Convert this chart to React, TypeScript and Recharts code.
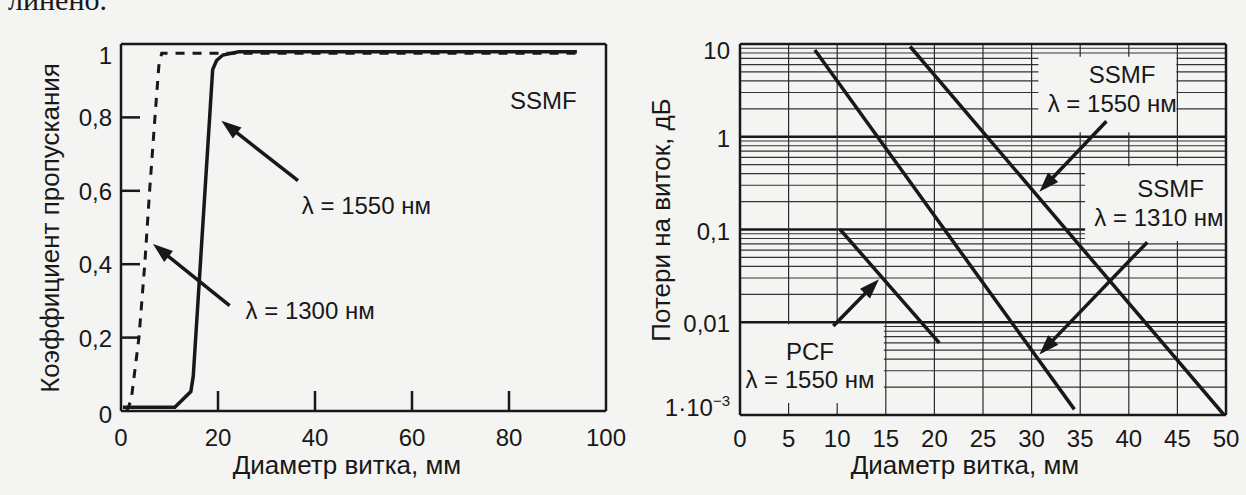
import React from 'react';
import { LineChart, Line, XAxis, YAxis, ReferenceLine, ReferenceDot } from 'recharts';

const INK = '#181818';
const PAPER = '#f4f4f2';
const FONT = '"Liberation Sans", Arial, Helvetica, sans-serif';

// left panel: transmission coefficient vs loop diameter (mm)
const transTicksX = [0, 20, 40, 60, 80, 100];
const transTicksY = [0, 0.2, 0.4, 0.6, 0.8, 1];
const trans1550 = [
  { d: 0.4, t: 0.01 },
  { d: 11.1, t: 0.01 },
  { d: 14.4, t: 0.053 },
  { d: 14.9, t: 0.095 },
  { d: 18.9, t: 0.93 },
  { d: 19.7, t: 0.955 },
  { d: 21, t: 0.97 },
  { d: 24.3, t: 0.979 },
  { d: 94, t: 0.979 },
];
const trans1300 = [
  { d: 1.2, t: 0 },
  { d: 2.1, t: 0.03 },
  { d: 3.7, t: 0.2 },
  { d: 4.9, t: 0.4 },
  { d: 5.9, t: 0.6 },
  { d: 7, t: 0.8 },
  { d: 7.8, t: 0.94 },
  { d: 8.4, t: 0.975 },
  { d: 94, t: 0.975 },
];

// right panel: loss per turn (dB, log) vs loop diameter (mm)
const lossTicksX = [0, 5, 10, 15, 20, 25, 30, 35, 40, 45, 50];
const lossDecades = [0.001, 0.01, 0.1, 1, 10];
const lossSsmf1550 = [
  { d: 17.5, loss: 9.4 },
  { d: 49.8, loss: 0.001 },
];
const lossSsmf1310 = [
  { d: 7.7, loss: 8.6 },
  { d: 34.4, loss: 0.00115 },
];
const lossPcf1550 = [
  { d: 10.3, loss: 0.1 },
  { d: 20.5, loss: 0.006 },
];

// empty patches of the log grid behind the labels
const labelBoxes = [
  { x0: 30.7, x1: 44.9, y0: 1.12, y1: 7.3 },
  { x0: 35.5, x1: 50, y0: 0.075, y1: 0.48 },
  { x0: 0, x1: 14.8, y0: 0.00135, y1: 0.0095 },
];

const labelStyle = { fontFamily: FONT, fontSize: 24, fill: INK };
const titleStyle = { fontFamily: FONT, fontSize: 26, fill: INK };
const frame = { stroke: INK, strokeWidth: 2.5 };
const comma = (v: number) => String(v).replace('.', ',');

function cutRange(lo: number, hi: number, holes: number[][]) {
  let segs = [[lo, hi]];
  for (const [a, b] of holes) {
    segs = segs.flatMap(([s, e]) => {
      if (b <= s || a >= e) return [[s, e]];
      const out: number[][] = [];
      if (a > s) out.push([s, a]);
      if (b < e) out.push([b, e]);
      return out;
    });
  }
  return segs;
}

const arrowShape = (p: any) => {
  const { x1, y1, x2, y2 } = p;
  const dx = x2 - x1;
  const dy = y2 - y1;
  const len = Math.hypot(dx, dy);
  const ux = dx / len;
  const uy = dy / len;
  const bx = x2 - ux * 20;
  const by = y2 - uy * 20;
  return (
    <g>
      <line x1={x1} y1={y1} x2={bx + ux * 3} y2={by + uy * 3} stroke={INK} strokeWidth={3.5} />
      <polygon
        points={`${x2},${y2} ${bx - uy * 7},${by + ux * 7} ${bx + uy * 7},${by - ux * 7}`}
        fill={INK}
      />
    </g>
  );
};

const textShape = (text: string) => (p: any) => (
  <text x={p.cx} y={p.cy} dy={8} textAnchor="middle" fontFamily={FONT} fontSize={24} fill={INK}>
    {text}
  </text>
);

function Note({ x, y, text }: { x: number; y: number; text: string }) {
  return <ReferenceDot x={x} y={y} r={0} ifOverflow="visible" shape={textShape(text)} />;
}

function TransmissionChart() {
  return (
    <LineChart width={640} height={495} margin={{ top: 43, right: 33, bottom: 83, left: 120 }}>
      <XAxis
        type="number"
        dataKey="d"
        domain={[0, 100]}
        ticks={transTicksX}
        interval={0}
        height={1}
        tickSize={0}
        tickMargin={0}
        tickLine={false}
        axisLine={frame}
        tick={(p: any) => (
          <g>
            {p.payload.value > 0 && p.payload.value < 100 && (
              <line x1={p.x} y1={p.y} x2={p.x} y2={p.y - 20} stroke={INK} strokeWidth={2.5} />
            )}
            <text x={p.x} y={p.y + 35} textAnchor="middle" {...labelStyle}>
              {p.payload.value}
            </text>
          </g>
        )}
      />
      <XAxis
        xAxisId="top"
        orientation="top"
        type="number"
        domain={[0, 100]}
        ticks={[20, 40, 60, 80]}
        interval={0}
        height={1}
        tickSize={0}
        tickMargin={0}
        tickLine={false}
        axisLine={frame}
        tick={(p: any) => <line x1={p.x} y1={p.y} x2={p.x} y2={p.y + 22} stroke={INK} strokeWidth={2.5} />}
      />
      <YAxis
        type="number"
        domain={[0, 1]}
        ticks={transTicksY}
        interval={0}
        width={1}
        tickSize={0}
        tickMargin={0}
        tickLine={false}
        axisLine={frame}
        tick={(p: any) => {
          const v = p.payload.value;
          return (
            <g>
              {v > 0 && v < 1 && <line x1={p.x} y1={p.y} x2={p.x + 19} y2={p.y} stroke={INK} strokeWidth={2.5} />}
              <text x={p.x - 9} y={p.y + (v === 1 ? 11 : v === 0 ? 3 : 0)} dy={9} textAnchor="end" {...labelStyle}>
                {comma(v)}
              </text>
            </g>
          );
        }}
      />
      <YAxis
        yAxisId="right"
        orientation="right"
        type="number"
        domain={[0, 1]}
        ticks={[0.2, 0.4, 0.6, 0.8]}
        interval={0}
        width={1}
        tickSize={0}
        tickMargin={0}
        tickLine={false}
        axisLine={frame}
        tick={(p: any) => <line x1={p.x} y1={p.y} x2={p.x - 19} y2={p.y} stroke={INK} strokeWidth={2.5} />}
      />
      <Line data={trans1300} dataKey="t" type="linear" stroke={INK} strokeWidth={3} strokeDasharray="9 8" dot={false} isAnimationActive={false} />
      <Line data={trans1550} dataKey="t" type="linear" stroke={INK} strokeWidth={3.5} dot={false} isAnimationActive={false} />
      <ReferenceLine segment={[{ x: 36.5, y: 0.628 }, { x: 20.7, y: 0.791 }]} shape={arrowShape} ifOverflow="visible" />
      <ReferenceLine segment={[{ x: 22.4, y: 0.287 }, { x: 6.6, y: 0.455 }]} shape={arrowShape} ifOverflow="visible" />
      <Note x={87.1} y={0.845} text="SSMF" />
      <Note x={50.6} y={0.559} text="λ = 1550 нм" />
      <Note x={39} y={0.273} text="λ = 1300 нм" />
    </LineChart>
  );
}

function LossChart() {
  const minor = lossDecades
    .slice(0, -1)
    .flatMap((d) => [2, 3, 4, 5, 6, 7, 8, 9].map((k) => +(k * d).toPrecision(3)));
  const major = [0.01, 0.1, 1];
  const cols = lossTicksX.slice(1, -1);
  const hLines = [...minor.map((v) => ({ v, major: false })), ...major.map((v) => ({ v, major: true }))];

  return (
    <LineChart width={606} height={495} margin={{ top: 43, right: 19, bottom: 79, left: 99 }}>
      <XAxis
        type="number"
        dataKey="d"
        domain={[0, 50]}
        ticks={lossTicksX}
        interval={0}
        height={1}
        tickSize={0}
        tickMargin={0}
        tickLine={false}
        axisLine={frame}
        tick={(p: any) => (
          <text x={p.x} y={p.y + 32} textAnchor="middle" {...labelStyle}>
            {p.payload.value}
          </text>
        )}
      />
      <XAxis
        xAxisId="top"
        orientation="top"
        type="number"
        domain={[0, 50]}
        height={1}
        tick={false}
        tickLine={false}
        axisLine={frame}
      />
      <YAxis
        type="number"
        scale="log"
        domain={[0.001, 10]}
        allowDataOverflow
        ticks={lossDecades}
        interval={0}
        width={1}
        tickSize={0}
        tickMargin={0}
        tickLine={false}
        axisLine={frame}
        tick={(p: any) => {
          const v = p.payload.value;
          const shift = v === 10 ? 6 : v === 0.001 ? -8 : 1;
          return (
            <text x={p.x - 10} y={p.y + shift} dy={9} textAnchor="end" {...labelStyle}>
              {v === 0.001 ? (
                <>
                  <tspan>1·10</tspan>
                  <tspan dy={-10} fontSize={15}>−3</tspan>
                </>
              ) : (
                comma(v)
              )}
            </text>
          );
        }}
      />
      <YAxis
        yAxisId="right"
        orientation="right"
        type="number"
        scale="log"
        domain={[0.001, 10]}
        allowDataOverflow
        width={1}
        tick={false}
        tickLine={false}
        axisLine={frame}
      />
      {hLines.flatMap(({ v, major: isMajor }) =>
        cutRange(
          0,
          50,
          labelBoxes.filter((b) => v >= b.y0 && v <= b.y1).map((b) => [b.x0, b.x1])
        ).map(([a, b], i) => (
          <ReferenceLine
            key={`h${v}-${i}`}
            segment={[{ x: a, y: v }, { x: b, y: v }]}
            stroke={isMajor ? INK : '#333333'}
            strokeWidth={isMajor ? 2.5 : 1.1}
          />
        ))
      )}
      {cols.flatMap((x) =>
        cutRange(
          0.001,
          10,
          labelBoxes.filter((b) => x >= b.x0 && x <= b.x1).map((b) => [b.y0, b.y1])
        ).map(([a, b], i) => (
          <ReferenceLine
            key={`v${x}-${i}`}
            segment={[{ x, y: a }, { x, y: b }]}
            stroke="#2a2a2a"
            strokeWidth={1.2}
          />
        ))
      )}
      <Line data={lossSsmf1550} dataKey="loss" type="linear" stroke={INK} strokeWidth={3.5} dot={false} isAnimationActive={false} />
      <Line data={lossSsmf1310} dataKey="loss" type="linear" stroke={INK} strokeWidth={3.5} dot={false} isAnimationActive={false} />
      <Line data={lossPcf1550} dataKey="loss" type="linear" stroke={INK} strokeWidth={3.5} dot={false} isAnimationActive={false} />
      <ReferenceLine segment={[{ x: 37.7, y: 1.47 }, { x: 30.8, y: 0.255 }]} shape={arrowShape} ifOverflow="visible" />
      <ReferenceLine segment={[{ x: 41.9, y: 0.073 }, { x: 30.8, y: 0.0045 }]} shape={arrowShape} ifOverflow="visible" />
      <ReferenceLine segment={[{ x: 9.6, y: 0.0091 }, { x: 14.3, y: 0.029 }]} shape={arrowShape} ifOverflow="visible" />
      <Note x={39.3} y={4.6} text="SSMF" />
      <Note x={38.3} y={2.25} text="λ = 1550 нм" />
      <Note x={44.3} y={0.275} text="SSMF" />
      <Note x={43.1} y={0.133} text="λ = 1310 нм" />
      <Note x={7.2} y={0.0048} text="PCF" />
      <Note x={7.2} y={0.0024} text="λ = 1550 нм" />
    </LineChart>
  );
}

export default function App() {
  return (
    <div style={{ position: 'absolute', left: 0, top: 0, width: 1246, height: 495, background: PAPER, overflow: 'hidden' }}>
      <div style={{ position: 'absolute', left: 0, top: 0 }}>
        <TransmissionChart />
      </div>
      <div style={{ position: 'absolute', left: 640, top: 0 }}>
        <LossChart />
      </div>
      <svg width={1246} height={495} style={{ position: 'absolute', left: 0, top: 0, pointerEvents: 'none' }}>
        <text x={8} y={10} fontFamily='"Liberation Serif", "Times New Roman", serif' fontSize={30} fill={INK}>
          линено.
        </text>
        <text x={347} y={474} textAnchor="middle" {...titleStyle}>
          Диаметр витка, мм
        </text>
        <text x={965} y={474} textAnchor="middle" {...titleStyle}>
          Диаметр витка, мм
        </text>
        <text transform="translate(59 228) rotate(-90)" textAnchor="middle" {...titleStyle}>
          Коэффициент пропускания
        </text>
        <text transform="translate(670 220) rotate(-90)" textAnchor="middle" {...titleStyle}>
          Потери на виток, дБ
        </text>
      </svg>
    </div>
  );
}
